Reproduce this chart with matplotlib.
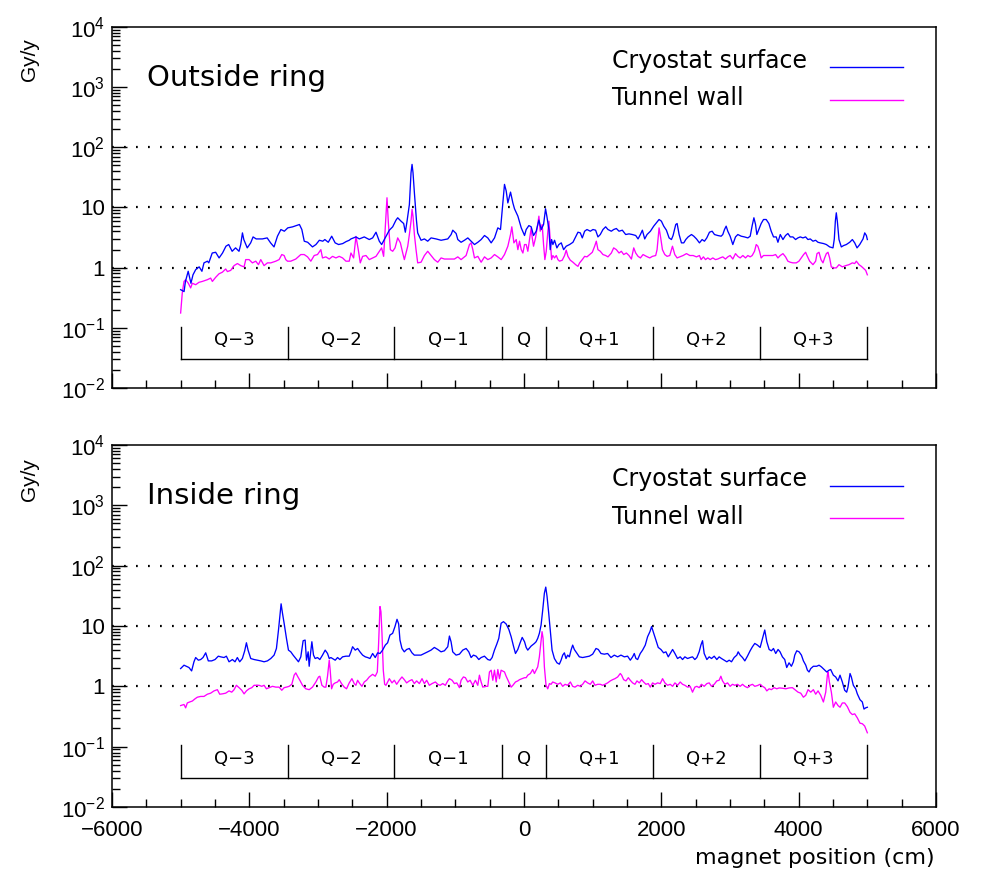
import numpy as np
import matplotlib
matplotlib.use("Agg")
import matplotlib.pyplot as plt
from matplotlib.ticker import MultipleLocator, FixedLocator, FixedFormatter, LogLocator, NullFormatter

plt.rcParams['font.family'] = ['Liberation Sans', 'DejaVu Sans']
plt.rcParams['mathtext.fontset'] = 'custom'
plt.rcParams['mathtext.rm'] = 'Liberation Sans'
plt.rcParams['mathtext.it'] = 'Liberation Sans'

# ---- data: (magnet position cm, dose Gy/y) ----
outside_cryostat = [
    (-5000, 0.43), (-4950, 0.40), (-4930, 0.59), (-4890, 0.87), (-4850, 0.55), (-4820, 0.76),
    (-4780, 0.93), (-4730, 1.03), (-4690, 0.87), (-4660, 1.20), (-4610, 1.28), (-4590, 1.20),
    (-4540, 1.75), (-4490, 1.80), (-4440, 1.45), (-4390, 1.75), (-4340, 2.27), (-4300, 2.42),
    (-4250, 1.87), (-4200, 2.13), (-4150, 1.87), (-4125, 2.42), (-4100, 3.78), (-4080, 2.93),
    (-4030, 2.13), (-3980, 2.58), (-3945, 3.24), (-3900, 3.00), (-3810, 3.00), (-3740, 3.12),
    (-3690, 2.58), (-3640, 2.21), (-3590, 3.33), (-3540, 4.30), (-3490, 4.03), (-3440, 4.58),
    (-3370, 4.76), (-3270, 5.21), (-3235, 4.30), (-3200, 2.75), (-3150, 2.64), (-3080, 2.21),
    (-3030, 2.42), (-2980, 2.85), (-2930, 2.75), (-2900, 2.93), (-2850, 2.64), (-2800, 3.33),
    (-2750, 2.58), (-2700, 2.42), (-2640, 2.51), (-2590, 2.71), (-2545, 2.85),
    (-2520, 3.0), (-2447, 3.24), (-2398, 3.0), (-2326, 3.24), (-2253, 2.93), (-2204, 3.12),
    (-2155, 3.88), (-2107, 2.75), (-2073, 2.42), (-2034, 2.93), (-1995, 3.55), (-1961, 4.19),
    (-1912, 4.77), (-1864, 6.16), (-1839, 6.74), (-1791, 5.92), (-1752, 5.41), (-1728, 3.88),
    (-1703, 5.92), (-1669, 11.2), (-1645, 37.8), (-1630, 52.0), (-1616, 37.8), (-1596, 17.6),
    (-1567, 6.31), (-1548, 3.78), (-1499, 2.85), (-1450, 3.0), (-1402, 2.75), (-1353, 3.12),
    (-1280, 3.0), (-1207, 2.85), (-1110, 3.0), (-1061, 3.55), (-1037, 4.19), (-988, 3.69),
    (-964, 2.93), (-916, 2.64), (-867, 2.85), (-818, 3.12), (-770, 2.75), (-721, 2.42),
    (-672, 2.64), (-624, 2.93), (-575, 3.42), (-527, 3.12), (-478, 2.58), (-429, 3.12),
    (-381, 4.58), (-342, 4.3), (-308, 11.9), (-284, 24.2), (-259, 18.8), (-235, 11.9),
    (-196, 18.0), (-162, 11.9), (-138, 9.5), (-89, 7.17), (-40, 4.58), (8, 3.42),
    (32, 4.3), (71, 5.0), (105, 4.77), (139, 3.42), (178, 4.03), (217, 6.16), (251, 4.3),
    (285, 5.21), (314, 9.5), (333, 7.17), (363, 4.3), (382, 1.99), (402, 2.93), (421, 2.42),
    (445, 2.85), (479, 2.13), (508, 2.42), (543, 2.58), (577, 1.99), (615, 2.27), (664, 2.42),
    (713, 2.64), (752, 3.24), (786, 3.88), (820, 3.78), (849, 3.12), (883, 4.03), (917, 4.3),
    (966, 4.03), (1004, 4.3), (1043, 4.19), (1077, 3.24), (1111, 3.55), (1150, 4.3),
    (1189, 4.77), (1223, 4.3), (1272, 4.03), (1306, 4.3), (1345, 4.47), (1384, 4.03),
    (1432, 4.19), (1481, 3.55), (1529, 3.64), (1578, 3.55), (1627, 3.42), (1661, 3.0),
    (1695, 3.55), (1724, 4.19), (1758, 3.0), (1792, 3.55), (1841, 4.03), (1889, 4.89),
    (1928, 5.55), (1967, 6.31), (2001, 5.92), (2035, 4.89), (2074, 4.19), (2113, 3.12),
    (2147, 2.93), (2171, 3.42), (2210, 5.21), (2230, 5.41), (2259, 3.55), (2293, 2.58),
    (2327, 2.58), (2356, 2.93), (2390, 3.24), (2439, 3.55), (2473, 3.33), (2512, 3.0),
    (2555, 2.58), (2594, 2.93), (2628, 2.75), (2662, 3.12), (2701, 3.88), (2740, 4.03),
    (2774, 3.55), (2822, 3.42), (2871, 3.33), (2895, 3.55), (2920, 4.3), (2944, 4.89),
    (2968, 4.03), (3002, 3.33), (3041, 2.42), (3080, 3.24), (3114, 3.55), (3163, 3.33),
    (3211, 3.24), (3260, 3.12), (3294, 3.33), (3323, 5.0), (3348, 6.74), (3372, 5.21),
    (3391, 3.55), (3420, 4.3), (3454, 5.41), (3488, 6.31), (3527, 6.31), (3566, 5.41),
    (3600, 4.03), (3634, 3.24), (3673, 3.24), (3698, 2.64), (3732, 3.55), (3771, 2.93),
    (3809, 3.42), (3843, 3.69), (3877, 3.24), (3916, 3.24), (3955, 2.93), (3989, 3.12),
    (4023, 3.24), (4062, 3.12), (4101, 3.24), (4135, 2.93), (4169, 3.0), (4208, 2.75),
    (4247, 2.85), (4281, 2.64), (4315, 2.58), (4364, 2.51), (4403, 2.42), (4451, 2.21),
    (4500, 2.13), (4519, 3.0), (4534, 5.92), (4548, 8.15), (4563, 5.92), (4587, 2.93),
    (4621, 2.21), (4655, 2.33), (4694, 2.42), (4743, 2.64), (4782, 2.93), (4816, 2.58),
    (4850, 2.13), (4889, 2.42), (4937, 3.0), (4962, 3.78), (4986, 3.42), (5000, 2.93),
]

outside_wall = [
    (-5000, 0.176), (-4976, 0.38), (-4951, 0.59), (-4927, 0.63), (-4888, 0.55), (-4854, 0.46),
    (-4830, 0.55), (-4781, 0.52), (-4733, 0.57), (-4684, 0.59), (-4611, 0.63), (-4563, 0.67),
    (-4538, 0.59), (-4490, 0.69), (-4441, 0.79), (-4392, 0.84), (-4344, 0.95), (-4319, 0.86),
    (-4271, 0.9), (-4222, 1.08), (-4173, 1.17), (-4125, 1.08), (-4076, 1.03), (-4052, 1.36),
    (-4003, 1.36), (-3955, 1.2), (-3906, 1.28), (-3867, 1.12), (-3833, 1.36), (-3785, 1.08),
    (-3736, 1.2), (-3687, 1.2), (-3614, 1.28), (-3566, 1.36), (-3527, 1.65), (-3493, 1.59),
    (-3469, 1.36), (-3444, 1.28), (-3396, 1.28), (-3323, 1.39), (-3250, 1.65), (-3201, 1.65),
    (-3152, 1.51), (-3104, 1.28), (-3055, 1.59), (-3007, 1.65), (-2958, 1.99), (-2934, 1.45),
    (-2885, 1.51), (-2836, 1.39), (-2788, 1.54), (-2739, 1.45), (-2691, 1.54), (-2642, 1.45),
    (-2593, 1.28), (-2545, 1.28),
    (-2520, 1.75), (-2481, 1.45), (-2447, 3.3), (-2413, 1.99), (-2384, 1.2), (-2350, 1.54),
    (-2301, 1.59), (-2253, 1.36), (-2204, 1.45), (-2155, 1.54), (-2107, 1.87), (-2073, 2.13),
    (-2044, 1.54), (-2019, 4.89), (-1995, 14.5), (-1975, 5.55), (-1946, 1.99), (-1912, 1.87),
    (-1878, 2.13), (-1839, 3.12), (-1800, 2.58), (-1766, 1.75), (-1742, 1.36), (-1718, 1.75),
    (-1693, 2.27), (-1669, 3.55), (-1645, 5.92), (-1630, 9.28), (-1616, 7.17), (-1596, 3.55),
    (-1572, 1.99), (-1548, 1.2), (-1499, 1.23), (-1450, 1.59), (-1402, 1.87), (-1353, 1.59),
    (-1305, 1.36), (-1256, 1.23), (-1207, 1.45), (-1159, 1.39), (-1061, 1.39), (-1013, 1.39),
    (-964, 1.51), (-916, 1.36), (-843, 1.59), (-794, 2.42), (-770, 2.58), (-745, 1.99),
    (-721, 1.45), (-672, 1.54), (-624, 1.23), (-575, 1.51), (-527, 1.36), (-478, 1.45),
    (-429, 1.65), (-381, 1.51), (-332, 1.36), (-284, 1.65), (-235, 2.27), (-196, 3.55),
    (-177, 4.77), (-147, 2.58), (-113, 2.93), (-89, 1.99), (-65, 2.75), (-40, 1.99),
    (-16, 1.75), (8, 2.42),
    (32, 2.42), (56, 1.87), (81, 2.93), (105, 4.58), (120, 3.12), (139, 2.27), (168, 3.12),
    (188, 4.3), (217, 7.17), (236, 4.03), (265, 5.21), (285, 2.42), (304, 1.36), (324, 1.87),
    (348, 4.03), (363, 5.92), (382, 2.93), (402, 1.36), (421, 1.59), (445, 1.45), (470, 1.59),
    (494, 1.36), (518, 1.28), (557, 1.33), (591, 1.59), (615, 1.95), (640, 1.54), (674, 1.33),
    (713, 1.23), (752, 1.12), (786, 1.05), (810, 1.2), (849, 1.36), (883, 1.54), (917, 1.51),
    (956, 1.65), (995, 1.8), (1029, 2.27), (1053, 2.75), (1077, 1.99), (1111, 1.87),
    (1150, 1.65), (1189, 1.59), (1223, 1.51), (1272, 1.75), (1306, 2.13), (1345, 1.99),
    (1384, 1.75), (1418, 1.87), (1452, 1.65), (1491, 1.75), (1529, 1.59), (1564, 1.39),
    (1598, 2.13), (1627, 1.75), (1661, 1.54), (1695, 1.45), (1734, 1.65), (1782, 1.54),
    (1831, 1.45), (1870, 1.54), (1918, 1.59), (1938, 1.99), (1967, 4.58), (1991, 3.12),
    (2016, 1.99), (2050, 1.65), (2084, 1.54), (2123, 1.59), (2162, 2.27), (2196, 1.65),
    (2230, 1.45), (2269, 1.51), (2317, 1.59), (2366, 1.71), (2415, 1.59), (2463, 1.59),
    (2512, 1.51),
    (2555, 1.59), (2579, 1.36), (2613, 1.51), (2643, 1.36), (2677, 1.45), (2711, 1.36),
    (2750, 1.45), (2788, 1.36), (2822, 1.39), (2856, 1.45), (2895, 1.51), (2934, 1.39),
    (2968, 1.51), (3002, 1.59), (3041, 1.39), (3080, 1.71), (3114, 1.54), (3148, 1.45),
    (3187, 1.59), (3226, 1.45), (3260, 1.59), (3294, 1.51), (3323, 1.59), (3357, 1.87),
    (3382, 2.42), (3406, 2.27), (3430, 1.87), (3454, 1.45), (3488, 1.59), (3527, 1.59),
    (3576, 1.59), (3625, 1.59), (3664, 1.65), (3698, 1.45), (3732, 1.59), (3771, 1.71),
    (3809, 1.51), (3843, 1.28), (3877, 1.23), (3916, 1.2), (3965, 1.2), (4004, 1.28),
    (4038, 1.45), (4072, 1.65), (4101, 1.8), (4121, 1.59), (4160, 1.28), (4208, 1.12),
    (4247, 1.28), (4267, 1.71), (4296, 1.8), (4325, 1.36), (4354, 1.2), (4378, 1.45),
    (4403, 1.71), (4427, 1.8), (4451, 1.45), (4475, 1.03), (4500, 0.99), (4548, 0.99),
    (4587, 1.12), (4636, 1.03), (4685, 1.08), (4733, 1.12), (4782, 1.2), (4816, 1.17),
    (4840, 1.28), (4879, 1.12), (4913, 1.05), (4937, 0.99), (4976, 0.9), (5000, 0.76),
]

inside_cryostat = [
    (-5000, 1.97), (-4951, 2.24), (-4917, 2.15), (-4879, 2.05), (-4840, 1.80), (-4806, 2.55),
    (-4781, 3.0), (-4742, 2.71), (-4708, 2.78), (-4674, 3.0), (-4635, 3.59), (-4597, 2.64),
    (-4548, 2.64), (-4499, 2.78), (-4451, 3.16), (-4417, 3.08), (-4368, 3.0), (-4334, 3.16),
    (-4295, 2.55), (-4246, 2.78), (-4208, 2.55), (-4174, 3.0), (-4140, 2.55), (-4101, 2.89),
    (-4067, 3.88), (-4042, 5.27), (-4018, 3.98), (-3979, 2.89), (-3930, 2.78), (-3882, 2.71),
    (-3833, 2.64), (-3785, 2.55), (-3736, 2.64), (-3687, 2.89), (-3639, 3.29), (-3605, 4.24),
    (-3575, 8.58), (-3551, 16.3), (-3537, 23.3), (-3517, 16.3), (-3493, 11.1), (-3459, 6.23),
    (-3430, 3.98), (-3396, 3.73), (-3362, 3.29), (-3323, 2.89), (-3284, 2.55), (-3250, 3.08),
    (-3216, 5.7), (-3187, 5.84), (-3167, 2.71), (-3143, 3.73), (-3128, 2.15), (-3114, 3.08),
    (-3089, 5.48), (-3065, 3.29), (-3041, 2.89), (-3007, 3.0), (-2973, 2.78), (-2934, 3.29),
    (-2895, 3.98), (-2861, 3.5), (-2836, 2.89), (-2812, 3.0), (-2788, 2.89), (-2749, 2.71),
    (-2715, 3.0), (-2681, 2.78), (-2642, 3.08), (-2593, 3.16), (-2545, 3.16), (-2520, 3.73),
    (-2496, 4.53), (-2457, 3.98), (-2423, 4.24), (-2389, 3.73), (-2350, 3.29), (-2311, 3.08),
    (-2277, 3.0), (-2243, 2.89), (-2204, 3.5), (-2166, 3.0), (-2131, 3.59), (-2097, 3.5),
    (-2059, 3.98), (-2020, 4.82), (-1986, 5.27), (-1952, 7.08), (-1913, 7.55), (-1879, 9.75),
    (-1849, 12.9), (-1825, 10.8), (-1806, 5.84), (-1777, 4.24), (-1743, 3.73), (-1709, 4.08),
    (-1670, 4.24), (-1631, 3.59), (-1597, 3.29), (-1548, 3.29), (-1500, 3.29), (-1451, 3.5),
    (-1402, 3.73), (-1354, 3.98), (-1305, 4.41), (-1256, 4.08), (-1208, 3.73), (-1159, 3.88),
    (-1110, 4.53), (-1086, 6.81), (-1062, 5.48), (-1038, 3.73), (-989, 3.29), (-940, 3.41),
    (-892, 3.98), (-843, 4.24), (-804, 3.73), (-770, 3.0), (-736, 3.29), (-697, 3.16),
    (-658, 2.78), (-624, 3.0), (-576, 3.16), (-527, 2.78), (-493, 2.71), (-464, 3.0),
    (-430, 3.98), (-396, 5.01), (-367, 6.23), (-333, 11.1), (-299, 11.8), (-260, 10.8),
    (-221, 8.8), (-187, 6.64), (-153, 4.64), (-124, 3.5), (-90, 4.08), (-56, 5.27),
    (-26, 6.47), (8, 5.48), (32, 4.41),
    (55, 3.98), (103, 4.64), (152, 5.14), (176, 5.48), (200, 6.23), (224, 7.55), (249, 10.4),
    (273, 18.5), (297, 35.0), (317, 44.1), (336, 30.8), (360, 16.3), (384, 8.05), (409, 3.98),
    (443, 2.89), (481, 2.45), (515, 2.33), (540, 2.71), (564, 3.29), (588, 3.59), (612, 2.89),
    (636, 3.29), (661, 3.08), (685, 3.98), (709, 4.82), (733, 4.08), (772, 3.5), (806, 3.08),
    (854, 3.0), (903, 3.08), (952, 3.16), (1000, 3.41), (1049, 4.24), (1082, 4.08),
    (1121, 3.5), (1170, 3.41), (1218, 3.5), (1267, 3.0), (1315, 3.29), (1364, 3.08),
    (1412, 3.29), (1461, 3.08), (1509, 3.16), (1548, 2.71), (1582, 3.08), (1606, 3.5),
    (1630, 2.89), (1655, 2.78), (1693, 3.5), (1727, 3.98), (1766, 4.82), (1800, 6.64),
    (1834, 8.05), (1858, 9.75), (1887, 7.74), (1921, 5.84), (1955, 4.41), (1994, 4.08),
    (2033, 3.59), (2067, 3.73), (2101, 3.08), (2130, 3.5), (2164, 4.08), (2198, 3.5),
    (2236, 2.89), (2275, 3.08), (2309, 2.78), (2343, 3.08), (2382, 2.89), (2420, 3.0),
    (2454, 3.08), (2488, 2.78), (2517, 3.0), (2551, 3.73), (2576, 4.82), (2600, 5.7),
    (2624, 3.5), (2663, 2.78), (2697, 3.08), (2731, 2.89), (2770, 3.16), (2808, 2.78),
    (2842, 3.08), (2876, 2.89), (2915, 2.71), (2954, 2.55), (2988, 2.71), (3022, 2.55),
    (3060, 3.0), (3099, 3.29), (3119, 3.73), (3148, 3.29), (3182, 3.0), (3216, 2.64),
    (3254, 3.16), (3293, 3.88), (3327, 4.53), (3361, 5.14), (3400, 4.82), (3439, 4.41),
    (3473, 6.23), (3506, 8.58), (3536, 5.48), (3570, 4.08), (3603, 3.88), (3633, 4.24),
    (3666, 3.5), (3700, 4.08), (3729, 3.73), (3763, 3.08), (3797, 2.78), (3826, 2.05),
    (3860, 2.45), (3894, 2.15), (3923, 2.55), (3943, 3.29), (3972, 3.88), (4006, 3.73),
    (4040, 3.29), (4069, 2.64), (4103, 2.24), (4127, 1.85), (4151, 1.73), (4176, 1.97),
    (4214, 2.15), (4263, 2.15), (4297, 2.24), (4331, 2.10), (4370, 1.90), (4408, 1.73),
    (4442, 1.85), (4466, 1.90), (4505, 1.53), (4539, 1.43), (4573, 1.23), (4602, 1.53),
    (4636, 1.18), (4670, 0.86), (4699, 0.80), (4718, 0.97), (4748, 1.63), (4767, 1.43),
    (4796, 1.04), (4830, 0.91), (4854, 0.75), (4893, 0.60), (4927, 0.55), (4951, 0.42),
    (4976, 0.44), (5000, 0.45),
]

inside_wall = [
    (-5000, 0.48), (-4951, 0.50), (-4927, 0.44), (-4903, 0.53), (-4869, 0.55), (-4830, 0.57),
    (-4791, 0.62), (-4757, 0.66), (-4708, 0.68), (-4660, 0.68), (-4611, 0.74), (-4563, 0.77),
    (-4514, 0.84), (-4465, 0.88), (-4431, 0.74), (-4392, 0.75), (-4344, 0.77), (-4295, 0.84),
    (-4256, 0.80), (-4222, 0.88), (-4188, 1.04), (-4149, 0.95), (-4110, 0.86), (-4076, 0.75),
    (-4042, 0.84), (-4003, 0.91), (-3964, 0.95), (-3930, 1.04), (-3896, 1.04), (-3858, 1.04),
    (-3819, 1.0), (-3785, 1.04), (-3751, 0.91), (-3712, 0.95), (-3663, 1.0), (-3614, 0.97),
    (-3566, 0.97), (-3527, 0.86), (-3493, 0.95), (-3459, 0.97), (-3420, 1.0), (-3381, 1.08),
    (-3347, 1.53), (-3323, 1.67), (-3298, 1.47), (-3264, 1.26), (-3225, 1.04), (-3177, 0.91),
    (-3128, 0.88), (-3080, 0.97), (-3031, 1.18), (-2992, 1.43), (-2973, 1.47), (-2943, 1.04),
    (-2909, 0.97), (-2885, 0.97), (-2861, 1.47), (-2836, 2.71), (-2822, 1.85), (-2802, 0.91),
    (-2778, 1.08), (-2749, 1.14), (-2715, 1.18), (-2691, 1.29), (-2657, 1.11), (-2618, 0.97),
    (-2584, 0.91), (-2545, 1.14), (-2506, 1.34), (-2472, 1.11), (-2448, 1.04), (-2423, 1.26),
    (-2399, 1.14), (-2360, 1.0), (-2326, 1.18), (-2292, 1.26), (-2253, 1.43), (-2204, 1.58),
    (-2166, 1.47), (-2136, 1.73), (-2117, 5.14), (-2097, 21.0), (-2083, 17.3), (-2068, 7.55),
    (-2049, 1.85), (-2029, 1.08), (-2010, 1.04), (-1961, 1.34), (-1922, 1.14), (-1888, 1.26),
    (-1854, 1.08), (-1815, 1.26), (-1777, 1.43), (-1743, 1.29), (-1709, 1.14), (-1670, 1.23),
    (-1631, 1.29), (-1597, 1.11), (-1563, 1.23), (-1524, 1.11), (-1485, 1.34), (-1451, 1.11),
    (-1417, 1.26), (-1378, 1.04), (-1339, 1.11), (-1290, 1.18), (-1256, 1.08), (-1222, 1.04),
    (-1183, 1.11), (-1145, 1.04), (-1110, 1.23), (-1086, 1.34), (-1047, 1.26), (-1013, 1.11),
    (-979, 1.14), (-940, 0.95), (-916, 1.26), (-882, 1.43), (-853, 1.39), (-819, 1.18),
    (-785, 1.26), (-746, 1.04), (-707, 1.26), (-673, 1.04), (-649, 1.53), (-624, 1.18),
    (-600, 0.97), (-561, 1.0), (-527, 1.0), (-503, 1.73), (-478, 1.85), (-454, 1.26),
    (-430, 1.85), (-405, 1.18), (-381, 1.90), (-357, 1.34), (-333, 1.85), (-284, 1.73),
    (-260, 1.47), (-221, 1.18), (-187, 0.97), (-162, 1.04), (-124, 1.18), (-90, 1.23),
    (-65, 1.29), (-26, 1.34), (8, 1.39), (32, 1.39),
    (55, 1.53), (93, 1.63), (127, 1.90), (152, 1.63), (176, 1.85), (200, 2.10), (224, 3.08),
    (249, 5.84), (263, 8.05), (278, 6.23), (297, 2.10), (321, 1.04), (346, 0.91), (370, 1.11),
    (394, 1.08), (418, 1.18), (452, 1.14), (491, 1.08), (530, 1.14), (564, 1.0), (598, 1.08),
    (636, 1.04), (675, 1.18), (709, 1.0), (743, 0.97), (782, 1.04), (821, 1.0), (854, 1.08),
    (889, 1.23), (927, 1.14), (966, 1.08), (1000, 1.23), (1034, 1.04), (1073, 1.08),
    (1112, 1.08), (1146, 1.04), (1179, 1.08), (1218, 1.14), (1257, 1.23), (1291, 1.29),
    (1325, 1.34), (1364, 1.43), (1402, 1.63), (1422, 1.53), (1451, 1.29), (1485, 1.23),
    (1519, 1.39), (1548, 1.26), (1582, 1.14), (1616, 1.08), (1645, 1.23), (1679, 1.14),
    (1713, 1.29), (1742, 1.18), (1776, 1.08), (1810, 1.11), (1839, 0.97), (1873, 1.14),
    (1907, 1.08), (1945, 1.14), (1984, 1.11), (2018, 1.34), (2052, 1.14), (2091, 1.04),
    (2130, 1.08), (2164, 1.0), (2198, 1.14), (2236, 1.04), (2275, 1.18), (2309, 1.08),
    (2343, 1.04), (2382, 0.97), (2420, 1.0), (2454, 0.80), (2488, 0.97), (2517, 1.0),
    (2551, 0.95), (2585, 1.08), (2624, 1.0), (2663, 1.11), (2697, 1.14), (2731, 1.0),
    (2770, 1.08), (2808, 1.23), (2842, 1.26), (2867, 1.47), (2891, 1.23), (2925, 1.08),
    (2964, 1.14), (3002, 1.0), (3036, 1.08), (3070, 1.04), (3109, 1.08), (3148, 1.0),
    (3182, 1.08), (3216, 1.0), (3254, 0.95), (3293, 1.04), (3327, 1.08), (3361, 1.0),
    (3400, 1.03), (3439, 1.08), (3473, 1.0), (3506, 0.95), (3536, 0.84), (3570, 0.91),
    (3603, 0.88), (3642, 0.95), (3681, 0.91), (3715, 0.94), (3763, 0.93), (3812, 0.91),
    (3860, 0.94), (3909, 0.95), (3957, 0.86), (3991, 0.80), (4030, 0.77), (4069, 0.66),
    (4103, 0.71), (4137, 0.88), (4176, 0.80), (4214, 0.88), (4248, 0.74), (4282, 0.84),
    (4321, 0.71), (4360, 0.55), (4394, 0.80), (4418, 1.53), (4428, 1.73), (4447, 1.18),
    (4476, 0.80), (4505, 0.45), (4539, 0.55), (4573, 0.48), (4602, 0.45), (4636, 0.53),
    (4670, 0.53), (4709, 0.46), (4748, 0.37), (4782, 0.34), (4816, 0.35), (4854, 0.30),
    (4893, 0.245), (4927, 0.24), (4961, 0.22), (5000, 0.17),
]

# magnet sections along the beam line
section_edges = [-5000, -3440, -1890, -320, 320, 1880, 3440, 5000]
section_labels = ['Q\u22123', 'Q\u22122', 'Q\u22121', 'Q', 'Q+1', 'Q+2', 'Q+3']

panel_titles = ['Outside ring', 'Inside ring']
series_names = ['Cryostat surface', 'Tunnel wall']
ytick_vals = [1e-2, 1e-1, 1, 10, 1e2, 1e3, 1e4]
ytick_text = ['$10^{-2}$', '$10^{-1}$', '1', '10', '$10^{2}$', '$10^{3}$', '$10^{4}$']

CRYO_COLOR = '#0000ff'
WALL_COLOR = '#ff00ff'
WIDE = ['DejaVu Sans']

fig = plt.figure(figsize=(9.83, 8.73), dpi=100)
ax_top = fig.add_axes([0.1139, 0.5556, 0.8383, 0.4135])
ax_bot = fig.add_axes([0.1139, 0.0756, 0.8383, 0.4147])

panels = [
    (ax_top, outside_cryostat, outside_wall, panel_titles[0]),
    (ax_bot, inside_cryostat, inside_wall, panel_titles[1]),
]

for ax, cryo, wall, title in panels:
    cx, cy = np.array(cryo).T
    wx, wy = np.array(wall).T
    ax.set_yscale('log')
    ax.set_xlim(-6000, 6000)
    ax.set_ylim(1e-2, 1e4)

    # dotted reference lines
    for lvl in [1, 10, 100]:
        ax.axhline(lvl, color='black', lw=1.6, ls=(0, (0.8, 4.6)), zorder=1)

    ax.plot(wx, wy, color=WALL_COLOR, lw=0.95, zorder=3)
    ax.plot(cx, cy, color=CRYO_COLOR, lw=0.95, zorder=4)

    # magnet section boxes
    ax.plot([section_edges[0], section_edges[-1]], [0.030, 0.030], color='black', lw=1.0)
    for e in section_edges:
        ax.plot([e, e], [0.030, 0.105], color='black', lw=1.0)
    for i, lab in enumerate(section_labels):
        mid = 0.5 * (section_edges[i] + section_edges[i + 1])
        ax.text(mid, 0.062, lab, ha='center', va='center', fontsize=13, family=WIDE)

    ax.text(0.0425, 0.858, title, transform=ax.transAxes, ha='left', va='center',
            fontsize=21, family=WIDE)

    # legend drawn ROOT-style
    ax.text(0.607, 0.905, series_names[0], transform=ax.transAxes, ha='left', va='center',
            fontsize=17, family=WIDE)
    ax.text(0.607, 0.802, series_names[1], transform=ax.transAxes, ha='left', va='center',
            fontsize=17, family=WIDE)
    ax.plot([0.871, 0.960], [0.888, 0.888], transform=ax.transAxes, color=CRYO_COLOR, lw=1.0)
    ax.plot([0.871, 0.960], [0.797, 0.797], transform=ax.transAxes, color=WALL_COLOR, lw=1.0)

    ax.yaxis.set_major_locator(FixedLocator(ytick_vals))
    ax.yaxis.set_major_formatter(FixedFormatter(ytick_text))
    ax.yaxis.set_minor_locator(LogLocator(base=10, subs=np.arange(2, 10)))
    ax.yaxis.set_minor_formatter(NullFormatter())
    ax.xaxis.set_major_locator(MultipleLocator(2000))
    ax.xaxis.set_minor_locator(MultipleLocator(500))
    ax.tick_params(which='both', direction='in', top=False, right=False, labelsize=16)
    ax.tick_params(which='major', length=11, width=1)
    ax.tick_params(which='minor', length=6, width=1)
    ax.tick_params(axis='y', pad=5)
    ax.tick_params(axis='x', pad=9)
    for sp in ax.spines.values():
        sp.set_linewidth(1.1)

ax_top.tick_params(labelbottom=False)
ax_bot.set_xticks([-6000, -4000, -2000, 0, 2000, 4000, 6000])
ax_bot.set_xticklabels(['\u22126000', '\u22124000', '\u22122000', '0', '2000', '4000', '6000'])

fig.text(30 / 983, 1 - 60 / 873, 'Gy/y', rotation=90, ha='center', va='center', fontsize=15)
fig.text(30 / 983, 1 - 480 / 873, 'Gy/y', rotation=90, ha='center', va='center', fontsize=15)
fig.text(935 / 983, 1 - 858 / 873, 'magnet position (cm)', ha='right', va='center',
         fontsize=16, family=WIDE)

fig.savefig('out.png', dpi=100)
